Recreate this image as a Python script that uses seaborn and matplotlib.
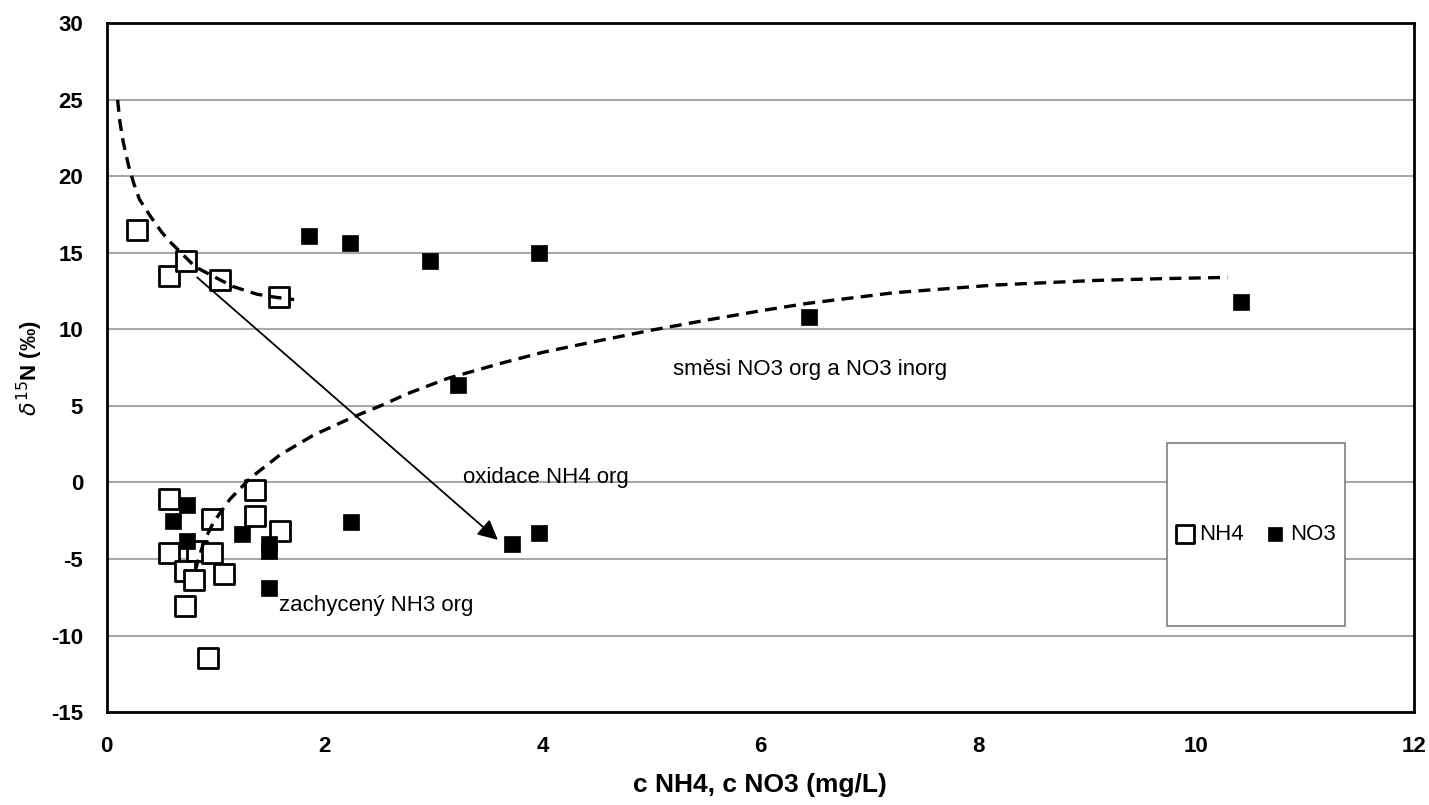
import matplotlib
matplotlib.use('Agg')
import matplotlib.pyplot as plt
import matplotlib.patches as mpatches
import pandas as pd
import seaborn as sns

# NH4 samples (open squares)
nh4_x = [0.28, 0.57, 0.73, 1.04, 1.58, 0.57, 1.36, 0.97, 1.36, 1.59, 0.57, 0.83, 0.97, 0.72, 0.80, 1.08, 0.72, 0.93]
nh4_y = [16.5, 13.5, 14.5, 13.2, 12.1, -1.05, -0.5, -2.4, -2.2, -3.2, -4.6, -4.5, -4.6, -5.8, -6.4, -6.0, -8.1, -11.5]

# NO3 samples (filled squares)
no3_x = [1.86, 2.23, 2.97, 3.97, 6.45, 10.41, 3.22, 0.74, 0.61, 0.74, 1.24, 1.49, 1.49, 1.49, 2.24, 3.72, 3.97]
no3_y = [16.1, 15.65, 14.5, 15.0, 10.8, 11.8, 6.4, -1.45, -2.55, -3.8, -3.4, -4.0, -4.5, -6.9, -2.6, -4.0, -3.27]

# dashed trend curves
trend1_x = [0.10, 0.12, 0.15, 0.20, 0.25, 0.30, 0.40, 0.50, 0.57, 0.67, 0.81, 0.97, 1.16, 1.38, 1.55, 1.72]
trend1_y = [25.0, 23.6, 22.3, 20.7, 19.5, 18.5, 17.4, 16.4, 15.8, 15.1, 14.1, 13.5, 12.8, 12.3, 12.1, 11.95]

trend2_x = [0.81, 0.89, 0.98, 1.13, 1.32, 1.59, 1.90, 2.27, 2.51, 2.76, 3.13, 3.60, 4.00, 4.44, 5.00, 5.50, 6.03, 6.43, 7.23, 8.15, 9.07, 9.70, 10.29]
trend2_y = [-5.8, -3.9, -2.6, -1.1, 0.3, 1.8, 3.1, 4.3, 5.0, 5.8, 6.8, 7.75, 8.5, 9.15, 9.95, 10.6, 11.25, 11.7, 12.4, 12.9, 13.2, 13.32, 13.4]

# arrow "oxidace NH4 org"
arrow_start = (0.83, 13.4)
arrow_end = (3.59, -3.75)

x_ticks = [0, 2, 4, 6, 8, 10, 12]
y_ticks = [-15, -10, -5, 0, 5, 10, 15, 20, 25, 30]

sns.set_style('white')
plt.rcParams['font.family'] = ['Liberation Sans', 'DejaVu Sans']
plt.rcParams['axes.unicode_minus'] = False
plt.rcParams['text.color'] = 'black'
plt.rcParams['axes.labelcolor'] = 'black'
plt.rcParams['xtick.color'] = 'black'
plt.rcParams['ytick.color'] = 'black'

nh4 = pd.DataFrame({'x': nh4_x, 'y': nh4_y})
no3 = pd.DataFrame({'x': no3_x, 'y': no3_y})
t1 = pd.DataFrame({'x': trend1_x, 'y': trend1_y})
t2 = pd.DataFrame({'x': trend2_x, 'y': trend2_y})

fig = plt.figure(figsize=(14.29, 8.05), dpi=100)
ax = fig.add_axes([0.0747, 0.1155, 0.9148, 0.8555])

sns.scatterplot(x='x', y='y', data=nh4, marker='s', s=190, color='white',
                edgecolor='black', linewidth=2, ax=ax, zorder=3, label='NH4')
sns.scatterplot(x='x', y='y', data=no3, marker='s', s=120, color='black',
                edgecolor='black', linewidth=0.5, ax=ax, zorder=4, label='NO3')

sns.lineplot(x='x', y='y', data=t1, sort=False, color='black', lw=2.4,
             dashes=False, ax=ax, zorder=5).lines[-1].set_dashes([3.6, 2.2])
sns.lineplot(x='x', y='y', data=t2, sort=False, color='black', lw=2.4,
             dashes=False, ax=ax, zorder=5).lines[-1].set_dashes([3.6, 2.2])

ax.annotate('', xy=arrow_end, xytext=arrow_start,
            arrowprops=dict(arrowstyle='-|>', lw=1.3, color='black', mutation_scale=30,
                            shrinkA=0, shrinkB=0), zorder=6)

ax.text(5.2, 7.4, 'směsi NO3 org a NO3 inorg', fontsize=16, va='center', ha='left')
ax.text(3.27, 0.32, 'oxidace NH4 org', fontsize=16, va='center', ha='left')
ax.text(1.577, -8.05, 'zachycený NH3 org', fontsize=16, va='center', ha='left')

ax.set_xlim(0, 12)
ax.set_ylim(-15, 30)
ax.set_xticks(x_ticks)
ax.set_yticks(y_ticks)
ax.yaxis.grid(True, color='#a8a8a8', lw=1.5, zorder=0)
ax.xaxis.grid(False)
ax.set_axisbelow(True)
for sp in ax.spines.values():
    sp.set_color('black')
    sp.set_linewidth(2)
    sp.set_visible(True)
ax.tick_params(axis='both', direction='out', length=5, width=1, color='#808080',
               labelsize=16, pad=12, labelcolor='black')
for lab in ax.get_xticklabels() + ax.get_yticklabels():
    lab.set_fontweight('bold')

ax.set_xlabel('c NH4, c NO3 (mg/L)', fontsize=19, fontweight='bold', labelpad=12)
ax.set_ylabel(r'$\delta^{15}$N (‰)', fontsize=16, fontweight='bold', labelpad=4)

# legend box
box = mpatches.Rectangle((0.811, 0.125), 0.136, 0.265, transform=ax.transAxes,
                         facecolor='white', edgecolor='#808080', lw=1.2, zorder=7)
ax.add_patch(box)
leg = ax.legend(loc='center', bbox_to_anchor=(0.879, 0.2575), ncol=2, frameon=False,
                fontsize=16, handlelength=0.8, handletextpad=0.25, columnspacing=1.0,
                markerscale=0.95, borderaxespad=0)
leg.set_zorder(8)

fig.savefig('out.png', dpi=100)
